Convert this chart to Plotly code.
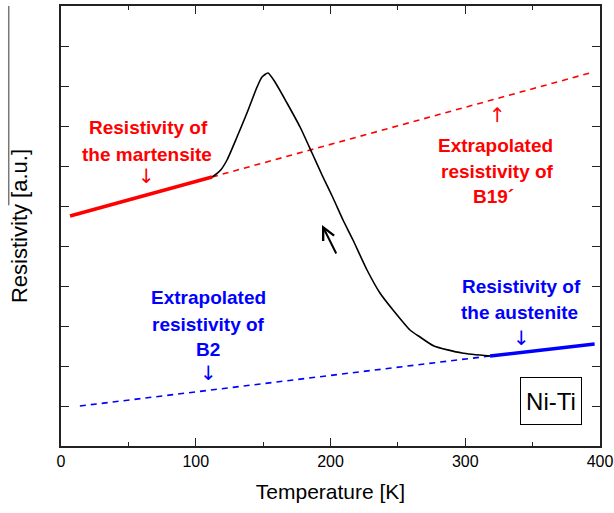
import plotly.graph_objects as go

# ---- data (Temperature [K], Resistivity [a.u.]) ----
curve_T = [112.1, 114.3, 118.5, 123.2, 130.6, 138.0, 145.5, 149.2, 153.6, 158.8, 167.7,
           177.4, 186.3, 194.4, 201.9, 209.3, 216.7, 227.1, 236.7, 246.4, 259.0,
           266.4, 276.8, 297.6, 318.4]
curve_R = [6.725, 6.775, 6.9, 7.15, 7.725, 8.325, 8.975, 9.225, 9.325, 9.1, 8.575,
           7.975, 7.325, 6.725, 6.2, 5.65, 5.15, 4.4, 3.825, 3.4, 2.9,
           2.725, 2.5, 2.325, 2.25]

mart_T = [6.7, 112.1]
mart_R = [5.75, 6.725]
b19_T = [112.1, 393.0]
b19_R = [6.725, 9.33]

b2_T = [14.0, 318.4]
b2_R = [1.0, 2.25]
aus_T = [318.4, 396.0]
aus_R = [2.25, 2.55]

x_ticks = [0, 100, 200, 300, 400]
y_ticks = [1, 2, 3, 4, 5, 6, 7, 8, 9, 10]

RED = "#FF0000"
BLUE = "#0000FF"
FONT = "Liberation Sans, Arial, sans-serif"

fig = go.Figure()
fig.add_trace(go.Scatter(x=b19_T, y=b19_R, mode="lines",
                         line=dict(color=RED, width=1.6, dash="6px,5px")))
fig.add_trace(go.Scatter(x=mart_T, y=mart_R, mode="lines",
                         line=dict(color=RED, width=3.5)))
fig.add_trace(go.Scatter(x=b2_T, y=b2_R, mode="lines",
                         line=dict(color=BLUE, width=1.6, dash="6px,5px")))
fig.add_trace(go.Scatter(x=aus_T, y=aus_R, mode="lines",
                         line=dict(color=BLUE, width=3.5)))
fig.add_trace(go.Scatter(x=curve_T, y=curve_R, mode="lines",
                         line=dict(color="black", width=1.6, shape="spline", smoothing=0.6)))

labels = [
    ("Resistivity of", 64.6, 7.975, RED),
    ("the martensite", 63.8, 7.3, RED),
    ("↓", 63.8, 6.75, RED),
    ("↑", 323.6, 8.275, RED),
    ("Extrapolated", 322.8, 7.525, RED),
    ("resistivity of", 323.6, 6.875, RED),
    ("B19´", 320.6, 6.25, RED),
    ("Extrapolated", 109.1, 3.725, BLUE),
    ("resistivity of", 109.1, 3.05, BLUE),
    ("B2", 109.1, 2.425, BLUE),
    ("↓", 109.1, 1.825, BLUE),
    ("Resistivity of", 341.4, 4.0, BLUE),
    ("the austenite", 340.6, 3.35, BLUE),
    ("↓", 342.1, 2.7, BLUE),
]
for txt, x, y, c in labels:
    is_arrow = txt in ("↓", "↑")
    fig.add_annotation(x=x, y=y, text=txt if is_arrow else f"<b>{txt}</b>",
                       showarrow=False, xanchor="center", yanchor="middle",
                       font=dict(family=("DejaVu Sans" if is_arrow else FONT),
                                 size=(20 if is_arrow else 19), color=c))

# cooling direction arrow
fig.add_annotation(x=193.7, y=5.525, ax=204.8, ay=4.775, axref="x", ayref="y",
                   xref="x", yref="y", text="", showarrow=True,
                   arrowhead=5, arrowsize=1.2, arrowwidth=2, arrowcolor="black",
                   standoff=0, startstandoff=0)

# Ni-Ti box
fig.add_annotation(x=363.6, y=1.125, text="Ni-Ti", showarrow=False,
                   xanchor="center", yanchor="middle",
                   font=dict(family=FONT, size=24, color="black"),
                   bordercolor="black", borderwidth=1, borderpad=0,
                   width=60, height=46, bgcolor="white")

# stray vertical line at left edge of the figure
fig.add_shape(type="line", xref="paper", yref="paper", x0=-0.097, x1=-0.097,
              y0=1.0, y1=0.547, line=dict(color="#777777", width=1.5))

fig.update_xaxes(range=[0, 400], tickvals=x_ticks, ticks="inside", ticklen=8,
                 tickwidth=1.3, tickcolor="#222", showline=True, linecolor="#222",
                 linewidth=1.5, mirror="allticks", showgrid=False, zeroline=False,
                 automargin=False,
                 minor=dict(dtick=50, ticks="inside", ticklen=4, tickwidth=1.3,
                            tickcolor="#222", showgrid=False),
                 tickfont=dict(family=FONT, size=16, color="black"),
                 ticklabelstandoff=0,
                 title=dict(text="Temperature [K]", standoff=15,
                            font=dict(family=FONT, size=21, color="black")))
fig.update_yaxes(range=[0, 11], tickvals=y_ticks, ticks="inside", ticklen=8,
                 tickwidth=1.3, tickcolor="#222", showline=True, linecolor="#222",
                 linewidth=1.5, mirror="allticks", showgrid=False, zeroline=False,
                 showticklabels=False, automargin=False,
                 title=dict(text="Resistivity [a.u.]", standoff=26,
                            font=dict(family=FONT, size=22, color="black")))

fig.update_layout(width=614, height=513, showlegend=False,
                  margin=dict(l=61, r=14, t=6, b=67),
                  paper_bgcolor="white", plot_bgcolor="white")

fig.write_html("out.html", config={"displayModeBar": False},
               post_script="document.body.style.margin='0';document.body.style.padding='0';")
